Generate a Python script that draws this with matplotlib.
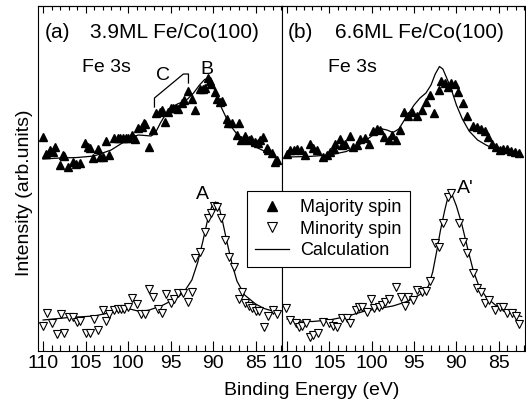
import matplotlib
matplotlib.use("Agg")
import matplotlib.pyplot as plt
from matplotlib.ticker import MultipleLocator
from matplotlib.lines import Line2D

plt.rcParams['font.family'] = ['Liberation Sans', 'DejaVu Sans']

# ---- panel (a): 3.9ML Fe/Co(100) ----
maj_a_E = [110.0, 109.6, 109.2, 108.8, 108.6, 108.0, 107.7, 107.5, 107.1, 106.5,
           106.1, 105.7, 105.1, 104.7, 104.5, 104.1, 103.5, 103.3, 102.9, 102.6,
           102.2, 101.6, 101.2, 100.9, 100.6, 100.3, 100.0, 99.6, 99.2, 98.8,
           98.4, 98.1, 98.0, 97.6, 97.1, 96.7, 96.3, 96.0, 95.7, 95.3,
           95.0, 94.7, 94.4, 94.1, 93.7, 93.4, 93.0, 92.5, 92.1, 91.6,
           91.2, 91.0, 90.6, 90.4, 90.2, 89.8, 89.5, 89.2, 89.0, 88.4,
           88.2, 87.8, 87.2, 87.0, 86.7, 86.3, 86.1, 85.8, 85.5, 85.1,
           84.7, 84.5, 84.1, 83.7, 83.5, 83.1, 82.7, 82.5]
maj_a_I = [214, 197, 201, 199, 204, 186, 196, 195, 184, 189,
           187, 188, 208, 204, 203, 193, 202, 194, 194, 210,
           196, 213, 213, 213, 213, 213, 213, 216, 212, 223,
           224, 228, 227, 204, 221, 238, 239, 241, 229, 239,
           243, 243, 243, 242, 248, 251, 260, 252, 241, 262,
           262, 263, 273, 270, 267, 259, 252, 249, 250, 232,
           228, 228, 216, 228, 211, 215, 212, 211, 212, 209,
           208, 211, 214, 203, 201, 198, 189, 191]
calc_maj_a_E = [110.0, 108.0, 106.0, 104.0, 102.0, 100.5, 99.5, 98.8, 98.0, 97.3,
                96.8, 96.2, 95.5, 94.8, 94.2, 93.6, 93.0, 92.3, 91.6, 91.0,
                90.7, 90.4, 90.0, 89.5, 89.0, 88.5, 88.0, 87.3, 86.5, 85.5,
                84.5, 83.5, 82.5]
calc_maj_a_I = [192, 193, 193.5, 195, 201, 209, 214, 216, 215.5, 215,
                218, 228, 238, 244, 247, 249, 252, 258, 266, 271.5,
                272.5, 271, 265, 254, 243, 234, 226, 218, 212, 206,
                202, 198, 193]

min_a_E = [110.0, 109.5, 109.0, 108.4, 107.9, 107.5, 107.0, 106.5, 106.0, 105.6,
           105.0, 104.5, 104.0, 103.5, 103.0, 102.6, 102.2, 101.6, 101.2, 100.8,
           100.5, 100.0, 99.5, 99.0, 98.5, 98.0, 97.6, 97.1, 96.5, 96.0,
           95.5, 95.0, 94.6, 94.1, 93.6, 93.0, 92.5, 92.1, 91.6, 91.0,
           90.6, 90.2, 89.9, 89.6, 89.1, 88.6, 88.1, 87.6, 87.0, 86.6,
           86.2, 85.8, 85.4, 85.0, 84.6, 84.0, 83.5, 83.0, 82.5]
min_a_I = [25, 38, 28, 17, 37, 18, 34, 34, 29, 30,
           18, 18, 32, 21, 41, 30, 37, 41, 42, 42,
           42, 44, 53, 47, 37, 37, 62, 54, 42, 38,
           57, 48, 52, 58, 58, 49, 59, 93, 99, 119,
           133, 138, 145, 144, 133, 111, 94, 84, 52, 59,
           48, 45, 43, 40, 40, 24, 35, 41, 37]
calc_min_a_E = [110.0, 107.0, 104.0, 102.0, 100.8, 99.8, 98.6, 97.5, 96.0, 94.5,
                93.5, 92.5, 91.8, 91.2, 90.6, 90.1, 89.7, 89.3, 88.9, 88.4,
                87.8, 87.2, 86.3, 85.0, 84.0, 83.0, 82.3]
calc_min_a_I = [31, 33.5, 35, 38.5, 41.5, 42, 39.5, 41, 45.5, 52,
                58, 71, 89, 110, 133, 146, 149, 144, 130, 110,
                88, 70, 56, 47, 42.5, 40, 38.5]

# ---- panel (b): 6.6ML Fe/Co(100) ----
maj_b_E = [110.0, 109.6, 109.2, 108.8, 108.4, 107.9, 107.3, 106.9, 106.5, 105.7,
           105.3, 104.9, 104.5, 104.3, 103.7, 103.5, 103.1, 102.6, 102.2, 101.8,
           101.4, 100.8, 100.3, 99.8, 99.4, 99.0, 98.6, 98.0, 97.6, 97.1,
           96.7, 96.2, 95.7, 95.2, 94.7, 94.1, 93.6, 93.1, 92.6, 92.1,
           91.8, 91.4, 91.0, 90.6, 90.2, 89.8, 89.2, 88.7, 88.1, 87.6,
           87.1, 86.6, 86.3, 85.8, 85.3, 84.9, 84.5, 84.0, 83.5, 83.1,
           82.6]
maj_b_I = [197, 201, 201, 202, 201, 196, 207, 203, 201, 194,
           196, 199, 202, 207, 212, 206, 207, 215, 204, 206,
           212, 213, 207, 220, 222, 221, 214, 211, 216, 211,
           221, 239, 235, 239, 235, 241, 249, 256, 238, 261,
           270, 268, 264, 268, 267, 259, 248, 235, 225, 224,
           222, 220, 214, 207, 204, 201, 202, 202, 200, 199,
           198]
calc_maj_b_E = [110.0, 107.5, 105.0, 103.0, 101.5, 100.0, 99.0, 98.2, 97.5, 96.8,
                96.0, 95.0, 94.3, 93.6, 93.0, 92.5, 92.0, 91.6, 91.2, 90.7,
                90.0, 89.3, 88.5, 87.5, 86.5, 85.5, 84.5, 83.5, 82.5]
calc_maj_b_I = [194, 194.5, 196, 199.5, 206, 215, 222.5, 221, 218.5, 222,
                233, 246, 253, 258, 266, 277, 284.5, 282, 274, 264,
                246, 232, 220, 211, 206, 202, 199.5, 197.5, 196]

min_b_E = [110.1, 109.6, 109.0, 108.6, 108.2, 107.8, 107.3, 106.9, 106.4, 105.7,
           105.1, 104.6, 104.1, 103.5, 102.9, 102.6, 101.9, 101.5, 101.1, 100.6,
           100.1, 99.7, 99.2, 98.8, 98.4, 98.0, 97.1, 96.5, 96.1, 95.7,
           95.1, 94.6, 94.1, 93.6, 93.1, 92.5, 92.1, 91.6, 91.0, 90.6,
           89.7, 89.2, 88.8, 88.1, 87.6, 87.1, 86.6, 86.1, 85.5, 84.9,
           84.5, 84.0, 83.4, 83.0, 82.6]
min_b_I = [43, 31, 28, 24, 25, 28, 14, 16, 18, 29,
           28, 25, 24, 33, 33, 28, 41, 44, 44, 39,
           52, 43, 44, 46, 49, 52, 64, 54, 45, 54,
           51, 61, 59, 60, 70, 108, 104, 128, 154, 158,
           128, 109, 98, 78, 63, 59, 48, 51, 41, 44,
           44, 38, 38, 35, 27]
calc_min_b_E = [110.0, 108.6, 107.0, 105.0, 103.0, 101.0, 99.2, 97.5, 96.0, 95.0,
                94.0, 93.3, 92.8, 92.3, 91.9, 91.4, 91.0, 90.8, 90.5, 90.0,
                89.4, 88.6, 88.0, 87.3, 86.5, 85.4, 84.3, 83.0, 82.3]
calc_min_b_I = [32, 30, 29.5, 31, 34.5, 39.5, 42.5, 45, 49, 53,
                58, 65, 79, 101, 120, 140, 154, 158, 156, 145,
                128, 100, 80, 64, 54, 46, 40, 36, 34.5]

# bracket over the C shoulder (energy, intensity)
bracket_E = [96.9, 96.9, 93.5, 92.9, 92.9]
bracket_I = [244, 253, 277, 277, 268]

x_ticks = [110, 105, 100, 95, 90, 85]

fig = plt.figure(figsize=(5.26, 4.09), dpi=100)
ax_a = fig.add_axes([0.0722, 0.1418, 0.4639, 0.8435])
ax_b = fig.add_axes([0.5361, 0.1418, 0.4620, 0.8435])

for ax in (ax_a, ax_b):
    ax.set_xlim(110.6, 81.9)
    ax.set_ylim(0, 345)
    ax.set_yticks([])
    ax.set_xticks(x_ticks)
    ax.xaxis.set_minor_locator(MultipleLocator(1))
    ax.tick_params(axis='x', which='major', direction='in', length=7, width=0.8,
                   labelsize=14, pad=3)
    ax.tick_params(axis='x', which='minor', direction='in', length=4, width=0.8)
    for s in ax.spines.values():
        s.set_linewidth(0.8)
    top = ax.secondary_xaxis('top')
    top.set_xticks(x_ticks)
    top.xaxis.set_minor_locator(MultipleLocator(1))
    top.tick_params(axis='x', which='major', direction='in', length=5, width=0.8,
                    labeltop=False)
    top.tick_params(axis='x', which='minor', direction='in', length=3, width=0.8)
    top.spines['top'].set_linewidth(0.8)

def draw(ax, mE, mI, cmE, cmI, nE, nI, cnE, cnI):
    ax.plot(cmE, cmI, color='black', lw=0.9)
    ax.plot(cnE, cnI, color='black', lw=0.9)
    ax.plot(mE, mI, linestyle='none', marker='^', ms=6, mfc='black', mec='black')
    ax.plot(nE, nI, linestyle='none', marker='v', ms=6, mfc='white', mec='black',
            mew=0.8)

draw(ax_a, maj_a_E, maj_a_I, calc_maj_a_E, calc_maj_a_I,
     min_a_E, min_a_I, calc_min_a_E, calc_min_a_I)
draw(ax_b, maj_b_E, maj_b_I, calc_maj_b_E, calc_maj_b_I,
     min_b_E, min_b_I, calc_min_b_E, calc_min_b_I)

ax_a.plot(bracket_E, bracket_I, color='black', lw=0.9)

ax_a.text(0.029, 0.922, '(a)', transform=ax_a.transAxes, ha='left', va='center', fontsize=15)
ax_a.text(0.213, 0.922, '3.9ML Fe/Co(100)', transform=ax_a.transAxes, ha='left',
          va='center', fontsize=15)
ax_b.text(0.025, 0.922, '(b)', transform=ax_b.transAxes, ha='left', va='center', fontsize=15)
ax_b.text(0.218, 0.922, '6.6ML Fe/Co(100)', transform=ax_b.transAxes, ha='left',
          va='center', fontsize=15)
ax_a.text(0.18, 0.822, 'Fe 3s', transform=ax_a.transAxes, ha='left', va='center', fontsize=14)
ax_b.text(0.19, 0.822, 'Fe 3s', transform=ax_b.transAxes, ha='left', va='center', fontsize=14)

ax_a.text(90.7, 282, 'B', ha='center', va='center', fontsize=14)
ax_a.text(95.9, 276, 'C', ha='center', va='center', fontsize=14)
ax_a.text(91.2, 157, 'A', ha='center', va='center', fontsize=14)
ax_b.text(88.9, 163, "A'", ha='center', va='center', fontsize=14)

fig.text(312 / 526, 14 / 409, 'Binding Energy (eV)', ha='center', va='baseline', fontsize=14)
fig.text(25 / 526, 0.528, 'Intensity (arb.units)', rotation=90, ha='center', va='center',
         fontsize=14)

handles = [Line2D([], [], linestyle='none', marker='^', ms=7, mfc='black', mec='black'),
           Line2D([], [], linestyle='none', marker='v', ms=7, mfc='white', mec='black', mew=0.8),
           Line2D([], [], color='black', lw=0.9)]
leg = fig.legend(handles, ['Majority spin', 'Minority spin', 'Calculation'],
                 loc='upper left', bbox_to_anchor=(247 / 526, 1 - 191 / 409),
                 fontsize=13, frameon=True, fancybox=False, edgecolor='black',
                 framealpha=1, handlelength=1.9, handletextpad=0.6,
                 borderpad=0.45, labelspacing=0.25, borderaxespad=0)
leg.get_frame().set_linewidth(0.8)

fig.savefig('out.png', dpi=100)
